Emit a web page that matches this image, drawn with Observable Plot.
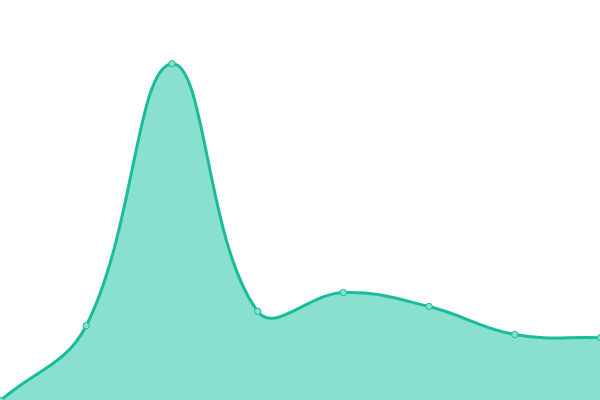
<!DOCTYPE html>
<html>
<head>
<meta charset="utf-8">
<script src="https://cdn.jsdelivr.net/npm/d3@7"></script>
<script src="https://cdn.jsdelivr.net/npm/@observablehq/plot@0.6"></script>
<style>
html,body{margin:0;padding:0;background:#fff;}
#chart svg{overflow:hidden;display:block;}
</style>
</head>
<body>
<div id="chart"></div>
<script>
const xs = [0, 1, 2, 3, 4, 5, 6, 7];
const values = [0, 18.7, 84.2, 22.3, 27, 23.5, 16.5, 15.7];
const data = xs.map((x, i) => ({x, y: values[i]}));

// Spline curve with distance-weighted tangents (tension 0.4)
class SplineCurve {
  constructor(context, t) { this._context = context; this._t = t; }
  areaStart() { this._line = 0; }
  areaEnd() { this._line = NaN; }
  lineStart() { this._pts = []; }
  point(x, y) { this._pts.push([+x, +y]); }
  lineEnd() {
    const p = this._pts, n = p.length, c = this._context, t = this._t;
    if (n) {
      if (this._line) c.lineTo(p[0][0], p[0][1]); else c.moveTo(p[0][0], p[0][1]);
      if (n === 2) c.lineTo(p[1][0], p[1][1]);
      else if (n > 2) {
        const cps = p.map((cur, i) => {
          const prev = p[Math.max(0, i - 1)], next = p[Math.min(n - 1, i + 1)];
          const d01 = Math.hypot(cur[0] - prev[0], cur[1] - prev[1]);
          const d12 = Math.hypot(next[0] - cur[0], next[1] - cur[1]);
          let s01 = d01 / (d01 + d12), s12 = d12 / (d01 + d12);
          if (!isFinite(s01)) s01 = 0;
          if (!isFinite(s12)) s12 = 0;
          const fa = t * s01, fb = t * s12;
          return {
            px: cur[0] - fa * (next[0] - prev[0]), py: cur[1] - fa * (next[1] - prev[1]),
            nx: cur[0] + fb * (next[0] - prev[0]), ny: cur[1] + fb * (next[1] - prev[1])
          };
        });
        for (let i = 1; i < n; i++) {
          c.bezierCurveTo(cps[i - 1].nx, cps[i - 1].ny, cps[i].px, cps[i].py, p[i][0], p[i][1]);
        }
      }
    }
    if (this._line || (this._line !== 0 && n === 1)) c.closePath();
    this._line = 1 - this._line;
  }
}
const spline = (context) => new SplineCurve(context, 0.4);

const plot = Plot.plot({
  width: 600,
  height: 400,
  margin: 0,
  x: {domain: [0, 7], axis: null},
  y: {domain: [0, 100], axis: null},
  marks: [
    Plot.areaY(data, {x: "x", y: "y", curve: spline, fill: "#89e0ce"}),
    Plot.lineY(data, {x: "x", y: "y", curve: spline, stroke: "#1abc9c", strokeWidth: 3}),
    Plot.dot(data, {x: "x", y: "y", r: 3.2, fill: "#89e0ce", stroke: "#1abc9c", strokeWidth: 1})
  ]
});
document.getElementById("chart").appendChild(plot);
</script>
</body>
</html>
